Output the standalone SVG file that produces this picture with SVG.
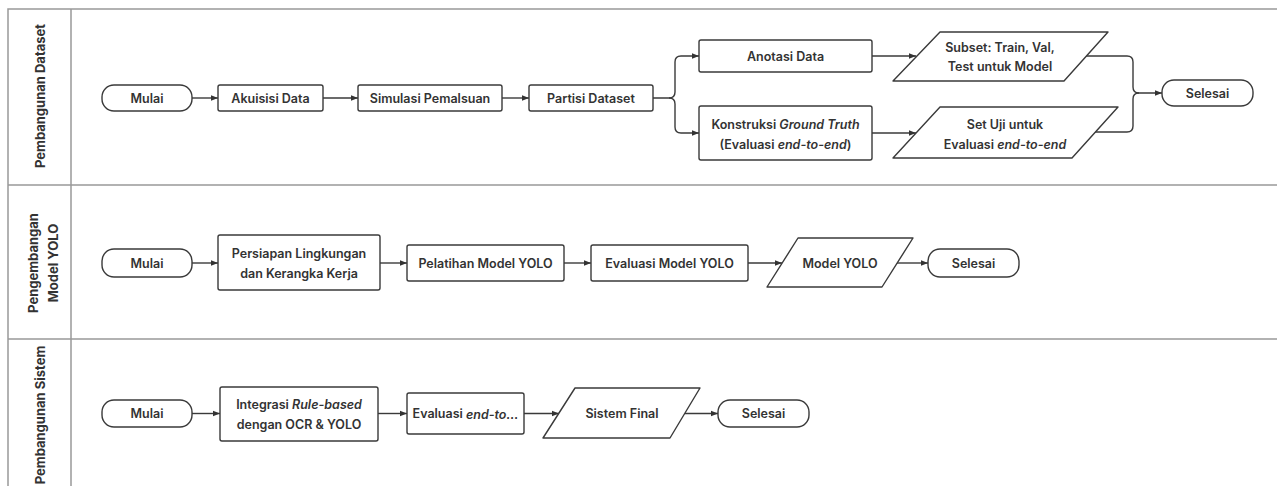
<svg xmlns="http://www.w3.org/2000/svg" width="1277" height="486" viewBox="0 0 1277 486">
<defs>
<marker id="ah" viewBox="0 0 10 10" refX="10" refY="5" markerWidth="7" markerHeight="7" markerUnits="userSpaceOnUse" orient="auto">
<path d="M0,1 L10,5 L0,9 Z" fill="#333"/>
</marker>
<style>
.lane{fill:none;stroke:#999;stroke-width:1.5}
.n{fill:#fff;stroke:#3a3a3a;stroke-width:1.4;stroke-linejoin:round}
.t{font-family:Inter,"Liberation Sans",sans-serif;font-size:12.5px;font-weight:600;fill:#333;text-anchor:middle;dominant-baseline:central}
.lt{font-family:Inter,"Liberation Sans",sans-serif;font-size:13px;font-weight:700;fill:#333;text-anchor:middle;dominant-baseline:central}
.c{fill:none;stroke:#3a3a3a;stroke-width:1.4;marker-end:url(#ah)}
.cn{fill:none;stroke:#3a3a3a;stroke-width:1.4}
</style>
</defs>
<rect width="1277" height="486" fill="#fff"/>
<g id="lanes">
<path class="lane" d="M1290,9 H8 V500 M71,9 V500 M8,185 H1290 M8,339 H1290"/>
<text class="lt" transform="translate(40,96) rotate(-90)">Pembangunan Dataset</text>
<text class="lt" transform="translate(33,263) rotate(-90)">Pengembangan</text>
<text class="lt" transform="translate(53,263) rotate(-90)">Model YOLO</text>
<text class="lt" transform="translate(40,415) rotate(-90)">Pembangunan Sistem</text>
</g>
<g id="connectors">
<path class="c" d="M192,98 H218"/>
<path class="c" d="M323,98 H358"/>
<path class="c" d="M502,98 H529"/>
<path class="c" d="M653,98 H669 Q675,98 675,92 V62 Q675,56 681,56 H699"/>
<path class="c" d="M669,98 Q675,98 675,104 V127 Q675,133 681,133 H699"/>
<path class="c" d="M872,56 H916"/>
<path class="c" d="M872,133 H916"/>
<path class="c" d="M1086,56 H1127 Q1133,56 1133,62 V87 Q1133,93 1139,93 H1162"/>
<path class="cn" d="M1095,132 H1127 Q1133,132 1133,126 V99 Q1133,93 1139,93"/>
<path class="c" d="M192,263 H218"/>
<path class="c" d="M380,263 H407"/>
<path class="c" d="M564,263 H591"/>
<path class="c" d="M748,263 H782"/>
<path class="c" d="M897,263 H928"/>
<path class="c" d="M192,413.5 H220"/>
<path class="c" d="M378,413.5 H407"/>
<path class="c" d="M524,413.5 H559"/>
<path class="c" d="M685,413.5 H718"/>
</g>
<g id="n-mulai1"><rect class="n" x="102" y="85" width="90" height="26" rx="12"/><text class="t" x="147" y="98">Mulai</text></g>
<g id="n-akuisisi"><rect class="n" x="218" y="85" width="105" height="26" rx="2"/><text class="t" x="270.5" y="98">Akuisisi Data</text></g>
<g id="n-simulasi"><rect class="n" x="358" y="85" width="144" height="26" rx="2"/><text class="t" x="430" y="98">Simulasi Pemalsuan</text></g>
<g id="n-partisi"><rect class="n" x="529" y="85" width="124" height="26" rx="2"/><text class="t" x="591" y="98">Partisi Dataset</text></g>
<g id="n-anotasi"><rect class="n" x="699" y="40" width="173" height="32" rx="2"/><text class="t" x="785.5" y="56">Anotasi Data</text></g>
<g id="n-konstruksi"><rect class="n" x="699" y="106" width="173" height="54" rx="2"/><text class="t" x="785.5" y="124">Konstruksi <tspan font-style="italic">Ground Truth</tspan></text><text class="t" x="785.5" y="144">(Evaluasi <tspan font-style="italic">end-to-end</tspan>)</text></g>
<g id="n-subset"><polygon class="n" points="893,81 940,32 1108,32 1064,81"/><text class="t" x="1000" y="47">Subset: Train, Val,</text><text class="t" x="1000" y="66">Test untuk Model</text></g>
<g id="n-setuji"><polygon class="n" points="893,158 940,107 1118,107 1072,158"/><text class="t" x="1005" y="124">Set Uji untuk</text><text class="t" x="1005" y="144">Evaluasi <tspan font-style="italic">end-to-end</tspan></text></g>
<g id="n-selesai1"><rect class="n" x="1162" y="80" width="91" height="26" rx="12"/><text class="t" x="1207.5" y="93">Selesai</text></g>
<g id="n-mulai2"><rect class="n" x="102" y="249" width="90" height="28" rx="12"/><text class="t" x="147" y="263">Mulai</text></g>
<g id="n-persiapan"><rect class="n" x="218" y="235" width="162" height="55" rx="2"/><text class="t" x="299" y="253">Persiapan Lingkungan</text><text class="t" x="299" y="273">dan Kerangka Kerja</text></g>
<g id="n-pelatihan"><rect class="n" x="407" y="245" width="157" height="36" rx="2"/><text class="t" x="485.5" y="263">Pelatihan Model YOLO</text></g>
<g id="n-evaluasi-yolo"><rect class="n" x="591" y="245" width="157" height="36" rx="2"/><text class="t" x="669.5" y="263">Evaluasi Model YOLO</text></g>
<g id="n-model-yolo"><polygon class="n" points="767,287 798,238 913,238 882,287"/><text class="t" x="840" y="263">Model YOLO</text></g>
<g id="n-selesai2"><rect class="n" x="928" y="249" width="91" height="28" rx="12"/><text class="t" x="973.5" y="263">Selesai</text></g>
<g id="n-mulai3"><rect class="n" x="102" y="400" width="90" height="27" rx="12"/><text class="t" x="147" y="413.5">Mulai</text></g>
<g id="n-integrasi"><rect class="n" x="220" y="387" width="158" height="54" rx="2"/><text class="t" x="299" y="404">Integrasi <tspan font-style="italic">Rule-based</tspan></text><text class="t" x="299" y="424">dengan OCR &amp; YOLO</text></g>
<g id="n-evaluasi-e2e"><rect class="n" x="407" y="393" width="117" height="41" rx="2"/><text class="t" x="465.5" y="413.5">Evaluasi <tspan font-style="italic">end-to...</tspan></text></g>
<g id="n-sistem-final"><polygon class="n" points="543,438 575,388 700,388 670,438"/><text class="t" x="622" y="413.5">Sistem Final</text></g>
<g id="n-selesai3"><rect class="n" x="718" y="400" width="91" height="27" rx="12"/><text class="t" x="763.5" y="413.5">Selesai</text></g>
</svg>
